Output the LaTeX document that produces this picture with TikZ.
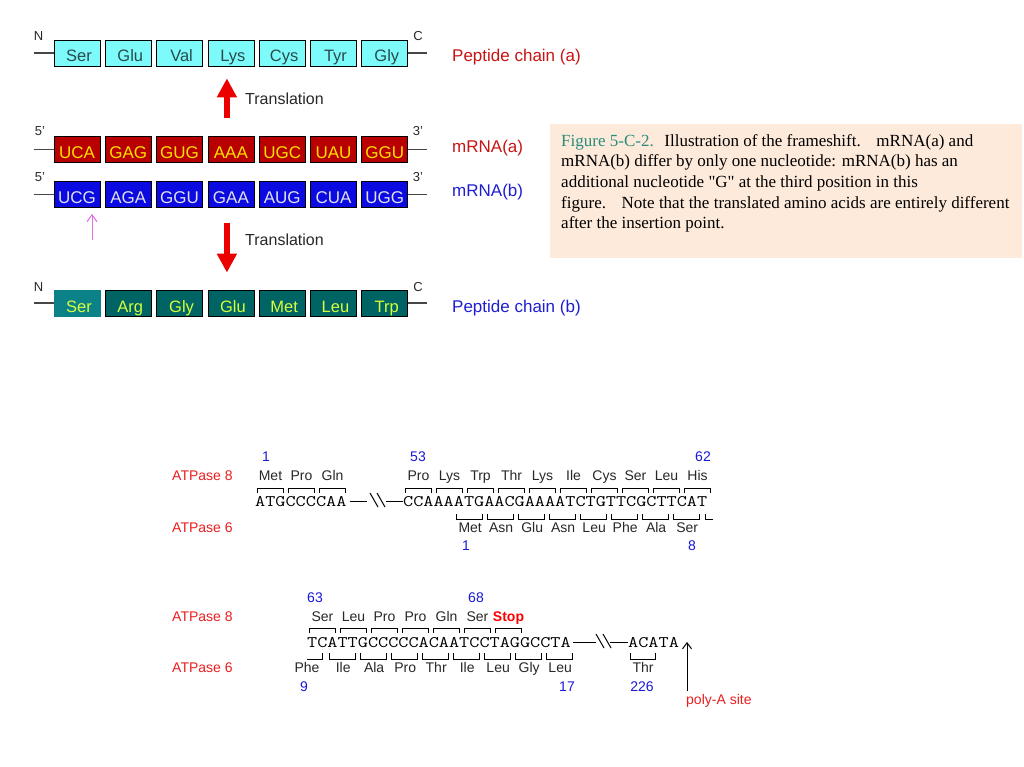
\documentclass[tikz,border=0pt]{standalone}
\usepackage{fontspec}
\setmainfont{Liberation Sans}
\newfontfamily\capfont{Liberation Serif}
\usetikzlibrary{arrows.meta,calc}
\definecolor{pepAfill}{RGB}{125,250,250}
\definecolor{pepAtext}{RGB}{40,75,75}
\definecolor{mAfill}{RGB}{185,0,0}
\definecolor{mAtext}{RGB}{255,225,0}
\definecolor{mBfill}{RGB}{10,10,225}
\definecolor{mBtext}{RGB}{225,225,235}
\definecolor{pBfill}{RGB}{0,100,100}
\definecolor{pBfirst}{RGB}{10,130,135}
\definecolor{pBtext}{RGB}{215,255,60}
\definecolor{labred}{RGB}{200,20,20}
\definecolor{labblue}{RGB}{30,30,210}
\definecolor{numblue}{RGB}{25,25,215}
\definecolor{atpred}{RGB}{235,30,30}
\definecolor{capbg}{RGB}{253,234,219}
\definecolor{capteal}{RGB}{40,140,125}
\definecolor{arrred}{RGB}{235,0,0}
\definecolor{pinkarr}{RGB}{225,110,225}
\definecolor{linegray}{RGB}{70,70,70}
\definecolor{aagray}{RGB}{40,40,40}
\newcommand{\seqtxt}[1]{\scalebox{1}[0.82]{#1}}
\begin{document}
\begin{tikzpicture}[x=1pt,y=-1pt,
  every node/.style={inner sep=0pt},
  box/.style={draw=black, line width=0.8pt, minimum width=46pt, minimum height=26pt, text height=18pt, text depth=0pt},
  pA/.style={box, fill=pepAfill, text=pepAtext, font=\fontsize{16.5}{16.5}\selectfont},
  mA/.style={box, fill=mAfill, text=mAtext, font=\fontsize{17}{17}\selectfont},
  mB/.style={box, fill=mBfill, text=mBtext, font=\fontsize{17}{17}\selectfont},
  pB/.style={box, fill=pBfill, text=pBtext, font=\fontsize{16.5}{16.5}\selectfont},
  rowline/.style={draw=linegray, line width=1.2pt},
  endlab/.style={font=\fontsize{13}{13}\selectfont, text=aagray},
  sidelab/.style={anchor=base west, font=\fontsize{17}{17}\selectfont},
  transl/.style={anchor=base west, font=\fontsize{16}{16}\selectfont, text=aagray},
  bigarrow/.style={draw=arrred, line width=5.5pt, -{Triangle[length=19pt,width=19pt]}},
  seq/.style={anchor=base west, font=\ttfamily\fontsize{19.68}{19.68}\selectfont, text=black},
  brk/.style={draw=black, line width=1pt},
  aa/.style={anchor=base, font=\fontsize{14}{14}\selectfont, text=aagray},
  num/.style={anchor=base, font=\fontsize{14}{14}\selectfont, text=numblue},
  atp/.style={anchor=base west, font=\fontsize{14}{14}\selectfont, text=atpred},
  seqline/.style={draw=black, line width=1pt}
]
\useasboundingbox (0,0) rectangle (1024,767);
\fill[white] (0,0) rectangle (1024,767);

% ---------- Peptide chain (a)
\foreach \lab [count=\i] in {Ser,Glu,Val,Lys,Cys,Tyr,Gly}
  \node[pA] (pa\i) at ({77+(\i-1)*51.3},53) {\hspace*{4pt}\lab};
\coordinate (paL) at (34,53); \coordinate (paR) at (427,53);
\draw[rowline] (paL) -- (pa1.west); \draw[rowline] (pa7.east) -- (paR);
\node[endlab] (na) at (38.5,36) {N};
\node[endlab] (ca) at (418,36) {C};

% ---------- mRNA (a)
\foreach \lab [count=\i] in {UCA,GAG,GUG,AAA,UGC,UAU,GGU}
  \node[mA] (ma\i) at ({77+(\i-1)*51.3},149.5) {\lab};
\coordinate (maL) at (34,149.5); \coordinate (maR) at (427,149.5);
\draw[rowline] (maL) -- (ma1.west); \draw[rowline] (ma7.east) -- (maR);
\node[endlab] (fa) at (40,131) {5'};
\node[endlab] (ta) at (418,131) {3'};

% ---------- mRNA (b)
\foreach \lab [count=\i] in {UCG,AGA,GGU,GAA,AUG,CUA,UGG}
  \node[mB] (mb\i) at ({77+(\i-1)*51.3},194.5) {\lab};
\coordinate (mbL) at (34,194.5); \coordinate (mbR) at (427,194.5);
\draw[rowline] (mbL) -- (mb1.west); \draw[rowline] (mb7.east) -- (mbR);
\node[endlab] (fb) at (40,177) {5'};
\node[endlab] (tb) at (418,177) {3'};

% ---------- Peptide chain (b)
\node[pB, fill=pBfirst, draw=pBfirst] (pb1) at (77,303) {\hspace*{4pt}Ser};
\foreach \lab [count=\i from 2] in {Arg,Gly,Glu,Met,Leu,Trp}
  \node[pB] (pb\i) at ({77+(\i-1)*51.3},303) {\hspace*{4pt}\lab};
\coordinate (pbL) at (34,303); \coordinate (pbR) at (427,303);
\draw[rowline] (pbL) -- (pb1.west); \draw[rowline] (pb7.east) -- (pbR);
\node[endlab] (nb) at (38.5,287) {N};
\node[endlab] (cb) at (418,287) {C};

% ---------- arrows
\draw[bigarrow, shorten <=18.5pt, shorten >=12pt] ([xshift=-4pt]ma4.north) -- ([xshift=-4pt]pa4.south);
\node[transl] (tr1) at (245,105) {Translation};
\draw[bigarrow, shorten <=15.5pt, shorten >=17pt] ([xshift=-4pt]mb4.south) -- ([xshift=-4pt]pb4.north);
\node[transl] (tr2) at (245,245) {Translation};
\coordinate (ins) at (92,240);
\draw[draw=pinkarr, line width=1pt, -{Straight Barb[length=7pt,width=10pt]}, shorten >=6pt] (ins) -- ([xshift=15pt]mb1.south);

% ---------- side labels
\node[sidelab, text=labred] (lpa) at (452,62) {Peptide chain (a)};
\node[sidelab, text=labred] (lma) at (452,153) {mRNA(a)};
\node[sidelab, text=labblue] (lmb) at (452,196.5) {mRNA(b)};
\node[sidelab, text=labblue] (lpb) at (452,312) {Peptide chain (b)};

% ---------- caption
\fill[capbg] (550,124) rectangle (1022,258);
\node[anchor=north west, align=left, font=\capfont\fontsize{17}{20.7}\selectfont, text=black] (cap) at (561,134)
  {\textcolor{capteal}{Figure 5-C-2.}\hspace{5pt} Illustration of the frameshift.\hspace{10pt} mRNA(a) and\\
   mRNA(b) differ by only one nucleotide: mRNA(b) has an\\
   additional nucleotide "G" at the third position in this\\
   figure.\hspace{10pt} Note that the translated amino acids are entirely different\\
   after the insertion point.};

% ---------- bottom: row 1
\def\w{10.333}
\node[atp] (a8a) at (172,480) {ATPase 8};
\node[atp] (a6a) at (172,532) {ATPase 6};
\node[seq] (s1a) at (255,506) {\seqtxt{ATGCCCCAA}};
\node[seq] (s1b) at (403,506) {\seqtxt{CCAAAATGAACGAAAATCTGTTCGCTTCAT}};
\draw[seqline] ($(s1a.base east)+(3,-5)$) -- (367,501);
\draw[seqline] (386,501) -- ($(s1b.base west)+(0,-5)$);
\draw[seqline] (370,493) -- (378,507) (377,493) -- (385,507);
\foreach \aa [count=\i from 0] in {Met,Pro,Gln} {
  \pgfmathsetmacro\xa{255+3*\i*\w}
  \draw[brk] ({\xa+2},493) -- ({\xa+2},488) -- ({\xa+3*\w-3},488) -- ({\xa+3*\w-3},493);
  \node[aa] (ua\i) at ({\xa+1.5*\w},480) {\aa};
}
\foreach \aa [count=\i from 0] in {Pro,Lys,Trp,Thr,Lys,Ile,Cys,Ser,Leu,His} {
  \pgfmathsetmacro\xa{403+3*\i*\w}
  \draw[brk] ({\xa+2},493) -- ({\xa+2},488) -- ({\xa+3*\w-3},488) -- ({\xa+3*\w-3},493);
  \node[aa] (ub\i) at ({\xa+1.5*\w},480) {\aa};
}
\foreach \aa [count=\i from 0] in {Met,Asn,Glu,Asn,Leu,Phe,Ala,Ser} {
  \pgfmathsetmacro\xa{403+(5+3*\i)*\w}
  \draw[brk] ({\xa+2},514) -- ({\xa+2},519) -- ({\xa+3*\w-3},519) -- ({\xa+3*\w-3},514);
  \node[aa] (lb\i) at ({\xa+1.5*\w},532) {\aa};
}
\draw[brk] (705,514) -- (705,519) -- (713,519);
\node[num] (n1) at (266,461) {1};
\node[num] (n53) at (418,461) {53};
\node[num] (n62) at (703,461) {62};
\node[num] (m1) at (466,550) {1};
\node[num] (m8) at (692,550) {8};

% ---------- bottom: row 2
\node[atp] (a8b) at (172,621) {ATPase 8};
\node[atp] (a6b) at (172,672) {ATPase 6};
\node[seq] (s2a) at (307,647) {\seqtxt{TCATTGCCCCCACAATCCTAGGCCTA}};
\node[seq] (s2b) at (628,647) {\seqtxt{ACATA}};
\draw[seqline] ($(s2a.base east)+(2,-4.5)$) -- (596,642.5);
\draw[seqline] (610,642.5) -- ($(s2b.base west)+(0,-4.5)$);
\draw[seqline] (596,634) -- (604,648) (603,634) -- (611,648);
\foreach \aa [count=\i from 0] in {Ser,Leu,Pro,Pro,Gln,Ser} {
  \pgfmathsetmacro\xa{307+3*\i*\w}
  \draw[brk] ({\xa+2},633) -- ({\xa+2},628) -- ({\xa+3*\w-3},628) -- ({\xa+3*\w-3},633);
  \node[aa] (uc\i) at ({\xa+1.5*\w},621) {\aa};
}
\pgfmathsetmacro\xs{307+18*\w}
\draw[brk] ({\xs+2},633) -- ({\xs+2},628) -- ({\xs+3*\w-3},628) -- ({\xs+3*\w-3},633);
\node[aa, text=red, font=\bfseries\fontsize{14}{14}\selectfont] (stop) at ({\xs+1.5*\w},621) {Stop};
\draw[brk] (307,659) -- (322.5,659) -- (322.5,653);
\node[aa] (phe) at (307,672) {Phe};
\foreach \aa [count=\i from 0] in {Ile,Ala,Pro,Thr,Ile,Leu,Gly,Leu} {
  \pgfmathsetmacro\xa{307+(2+3*\i)*\w}
  \draw[brk] ({\xa+2},653) -- ({\xa+2},659) -- ({\xa+3*\w-3},659) -- ({\xa+3*\w-3},653);
  \node[aa] (lc\i) at ({\xa+1.5*\w},672) {\aa};
}
\draw[brk] (630,653) -- (630,659) -- (655,659) -- (655,653);
\node[aa] (thr) at (643,672) {Thr};
\node[num] (n63) at (315,602) {63};
\node[num] (n68) at (476,602) {68};
\node[num] (m9) at (304,691) {9};
\node[num] (m17) at (567,691) {17};
\node[num] (m226) at (642,691) {226};
\node[anchor=base west, font=\fontsize{14}{14}\selectfont, text=atpred] (polya) at (686,704) {poly-A site};
\coordinate (polytip) at (687,642);
\draw[draw=black, line width=1pt, -{Straight Barb[length=6pt,width=9pt]}] ($(polya.north west)+(1,-3)$) -- (polytip);
\end{tikzpicture}
\end{document}
